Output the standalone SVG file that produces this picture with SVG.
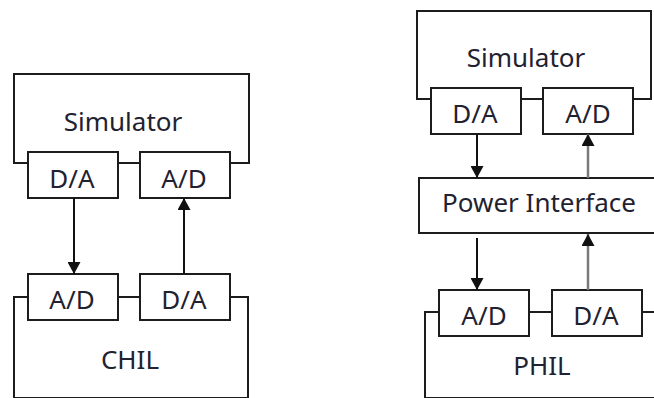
<svg xmlns="http://www.w3.org/2000/svg" width="654" height="398" viewBox="0 0 654 398">
  <defs>
    <style>
      .box { fill: #ffffff; stroke: #1c1c1c; stroke-width: 2; }
      .frame { fill: none; stroke: #1c1c1c; stroke-width: 2; }
      .lbl { font-family: "Noto Sans", "Open Sans", sans-serif; font-size: 26px; fill: #1f2230; text-anchor: middle; }
      .wire { stroke: #111111; stroke-width: 2; fill: none; }
      .wire-grey { stroke: #7a7a7a; stroke-width: 2.5; fill: none; }
    </style>
    <marker id="head" viewBox="0 0 12 13" refX="12" refY="6.5" markerWidth="12" markerHeight="13" markerUnits="userSpaceOnUse" orient="auto">
      <path d="M0,0 L12,6.5 L0,13 Z" fill="#111111"/>
    </marker>
  </defs>
  <rect width="654" height="398" fill="#ffffff"/>

  <!-- CHIL setup (left) -->
  <g id="chil-simulator">
    <rect class="frame" x="14" y="74" width="235" height="89"/>
    <text class="lbl" x="123" y="131">Simulator</text>
  </g>
  <g id="chil-sim-da">
    <rect class="box" x="28" y="152" width="90" height="46"/>
    <text class="lbl" x="72" y="188">D/A</text>
  </g>
  <g id="chil-sim-ad">
    <rect class="box" x="140" y="152" width="90" height="46"/>
    <text class="lbl" x="184" y="188">A/D</text>
  </g>
  <g id="chil-device">
    <rect class="frame" x="14" y="297" width="234" height="101"/>
    <text class="lbl" x="130" y="369">CHIL</text>
  </g>
  <g id="chil-dev-ad">
    <rect class="box" x="28" y="274" width="90" height="46"/>
    <text class="lbl" x="72" y="309">A/D</text>
  </g>
  <g id="chil-dev-da">
    <rect class="box" x="140" y="274" width="90" height="46"/>
    <text class="lbl" x="184" y="309">D/A</text>
  </g>

  <!-- PHIL setup (right) -->
  <g id="phil-simulator">
    <rect class="frame" x="417" y="11" width="234" height="88"/>
    <text class="lbl" x="526" y="67">Simulator</text>
  </g>
  <g id="phil-sim-da">
    <rect class="box" x="431" y="88" width="90" height="46"/>
    <text class="lbl" x="475" y="123">D/A</text>
  </g>
  <g id="phil-sim-ad">
    <rect class="box" x="543" y="88" width="90" height="46"/>
    <text class="lbl" x="588" y="123">A/D</text>
  </g>
  <g id="power-interface">
    <rect class="box" x="419" y="178" width="260" height="55"/>
    <text class="lbl" x="539" y="212">Power Interface</text>
  </g>
  <g id="phil-device">
    <rect class="frame" x="425" y="312" width="260" height="86"/>
    <text class="lbl" x="542" y="375">PHIL</text>
  </g>
  <g id="phil-dev-ad">
    <rect class="box" x="439" y="290" width="90" height="46"/>
    <text class="lbl" x="484" y="325">A/D</text>
  </g>
  <g id="phil-dev-da">
    <rect class="box" x="552" y="290" width="90" height="46"/>
    <text class="lbl" x="596" y="325">D/A</text>
  </g>

  <!-- signal connectors -->
  <g id="connectors">
    <line class="wire" x1="74" y1="198" x2="74" y2="274" marker-end="url(#head)"/>
    <line class="wire" x1="184" y1="274" x2="184" y2="198" marker-end="url(#head)"/>
    <line class="wire" x1="477" y1="134" x2="477" y2="178" marker-end="url(#head)"/>
    <line class="wire-grey" x1="588" y1="178" x2="588" y2="134" marker-end="url(#head)"/>
    <line class="wire" x1="477" y1="238" x2="477" y2="290" marker-end="url(#head)"/>
    <line class="wire-grey" x1="588" y1="290" x2="588" y2="234" marker-end="url(#head)"/>
  </g>
</svg>
